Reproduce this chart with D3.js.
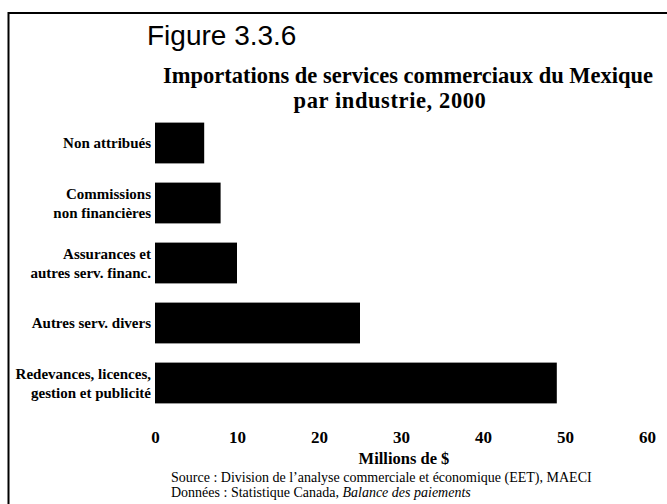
<!DOCTYPE html>
<html>
<head>
<meta charset="utf-8">
<script src="https://cdn.jsdelivr.net/npm/d3@7"></script>
<style>
  html, body { margin: 0; padding: 0; background: #fff; }
  svg { display: block; }
  .serif { font-family: "Liberation Serif", "Times New Roman", serif; }
</style>
</head>
<body>
<svg id="chart" width="667" height="504"></svg>
<script>
// data (millions de $)
const categories = [
    ["Non attribués"],
    ["Commissions", "non financières"],
    ["Assurances et", "autres serv. financ."],
    ["Autres serv. divers"],
    ["Redevances, licences,", "gestion et publicité"]
];
const values = [6, 8, 10, 25, 49];
const xTicks = [0, 10, 20, 30, 40, 50, 60];

const svg = d3.select("#chart");
const W = 667, H = 504;

// frame: top and left rules only
svg.append("line").attr("x1", 8.5).attr("x2", W).attr("y1", 13).attr("y2", 13)
    .attr("stroke", "#000").attr("stroke-width", 2);
svg.append("line").attr("x1", 8.5).attr("x2", 8.5).attr("y1", 12).attr("y2", H)
    .attr("stroke", "#000").attr("stroke-width", 2);

svg.append("text").attr("x", 147).attr("y", 45)
    .attr("font-family", "'Liberation Sans', Arial, sans-serif").attr("font-size", 28)
    .text("Figure 3.3.6");

const title = svg.append("g").attr("class", "serif").attr("font-weight", "bold").attr("font-size", 22.5)
    .attr("text-anchor", "middle");
title.append("text").attr("x", 408).attr("y", 83).text("Importations de services commerciaux du Mexique");
title.append("text").attr("x", 390).attr("y", 108).attr("letter-spacing", 0.6).text("par industrie, 2000");

const x = d3.scaleLinear().domain([0, 60]).range([155, 647]);
const y = d3.scaleBand().domain(d3.range(values.length)).range([113, 413]).paddingInner(0.32).paddingOuter(0.16);

svg.append("g").selectAll("rect").data(values).join("rect")
    .attr("x", x(0)).attr("y", (d, i) => y(i))
    .attr("width", d => x(d) - x(0)).attr("height", y.bandwidth())
    .attr("fill", "#000");

// category labels
const lab = svg.append("g").attr("class", "serif").attr("font-weight", "bold").attr("font-size", 15)
    .attr("text-anchor", "end");
categories.forEach((lines, i) => {
    const cy = y(i) + y.bandwidth() / 2;
    const t = lab.append("text").attr("x", 151);
    lines.forEach((s, j) => {
        t.append("tspan").attr("x", 151)
            .attr("y", cy + 5 + (j - (lines.length - 1) / 2) * 19).text(s);
    });
});

// x axis, labels only
const ax = svg.append("g").attr("transform", "translate(0,443)")
    .call(d3.axisBottom(x).tickValues(xTicks).tickSize(0).tickPadding(0));
ax.select(".domain").remove();
ax.attr("font-family", null).attr("font-size", null);
ax.selectAll("text").attr("class", "serif").attr("font-weight", "bold").attr("font-size", 17)
    .attr("fill", "#000").attr("dy", 0);

svg.append("text").attr("class", "serif").attr("x", 404).attr("y", 464)
    .attr("text-anchor", "middle").attr("font-weight", "bold").attr("font-size", 16.5)
    .text("Millions de $");

const src = svg.append("g").attr("class", "serif").attr("font-size", 14);
src.append("text").attr("x", 171).attr("y", 482)
    .text("Source : Division de l’analyse commerciale et économique (EET), MAECI");
const t2 = src.append("text").attr("x", 171).attr("y", 497);
t2.append("tspan").text("Données : Statistique Canada, ");
t2.append("tspan").attr("font-style", "italic").text("Balance des paiements");
</script>
</body>
</html>
